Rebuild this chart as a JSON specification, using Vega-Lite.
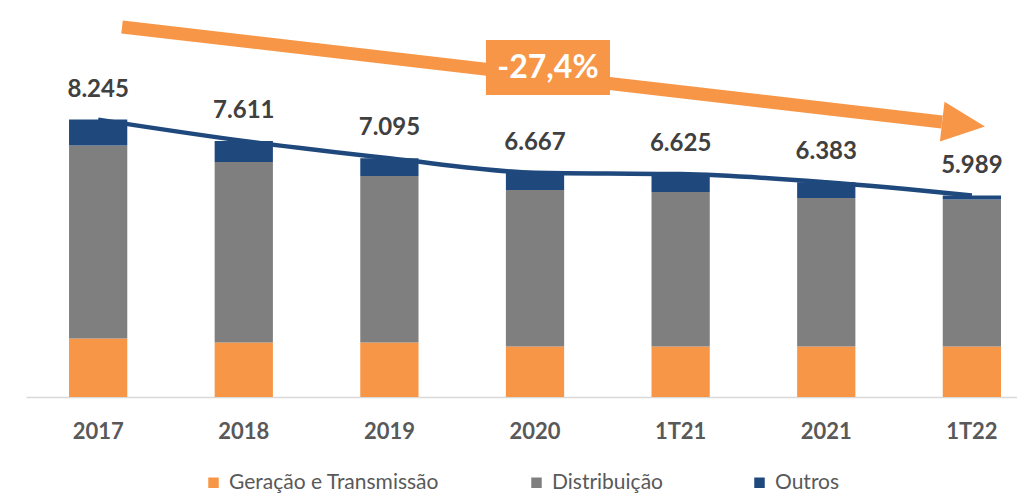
{
  "$schema": "https://vega.github.io/schema/vega-lite/v6.json",
  "width": 991,
  "height": 397,
  "autosize": {"type": "none"},
  "padding": {"left": 26, "top": 0, "right": 0, "bottom": 98},
  "background": "white",
  "config": {
    "view": {"stroke": null},
    "locale": {"number": {"decimal": ",", "thousands": ".", "grouping": [3], "currency": ["R$", ""]}}
  },
  "datasets": {
    "segments": [
      {"period": "2017", "segment": "Geração e Transmissão", "k": 1, "value": 1736},
      {"period": "2017", "segment": "Distribuição", "k": 2, "value": 5737},
      {"period": "2017", "segment": "Outros", "k": 3, "value": 772},
      {"period": "2018", "segment": "Geração e Transmissão", "k": 1, "value": 1617},
      {"period": "2018", "segment": "Distribuição", "k": 2, "value": 5369},
      {"period": "2018", "segment": "Outros", "k": 3, "value": 625},
      {"period": "2019", "segment": "Geração e Transmissão", "k": 1, "value": 1617},
      {"period": "2019", "segment": "Distribuição", "k": 2, "value": 4953},
      {"period": "2019", "segment": "Outros", "k": 3, "value": 525},
      {"period": "2020", "segment": "Geração e Transmissão", "k": 1, "value": 1498},
      {"period": "2020", "segment": "Distribuição", "k": 2, "value": 4655},
      {"period": "2020", "segment": "Outros", "k": 3, "value": 514},
      {"period": "1T21", "segment": "Geração e Transmissão", "k": 1, "value": 1498},
      {"period": "1T21", "segment": "Distribuição", "k": 2, "value": 4596},
      {"period": "1T21", "segment": "Outros", "k": 3, "value": 531},
      {"period": "2021", "segment": "Geração e Transmissão", "k": 1, "value": 1498},
      {"period": "2021", "segment": "Distribuição", "k": 2, "value": 4418},
      {"period": "2021", "segment": "Outros", "k": 3, "value": 467},
      {"period": "1T22", "segment": "Geração e Transmissão", "k": 1, "value": 1498},
      {"period": "1T22", "segment": "Distribuição", "k": 2, "value": 4370},
      {"period": "1T22", "segment": "Outros", "k": 3, "value": 121}
    ],
    "totals": [
      {"period": "2017", "total": 8245},
      {"period": "2018", "total": 7611},
      {"period": "2019", "total": 7095},
      {"period": "2020", "total": 6667},
      {"period": "1T21", "total": 6625},
      {"period": "2021", "total": 6383},
      {"period": "1T22", "total": 5989}
    ],
    "arrow": [
      {"pos": 0.164, "pos2": 5.795, "level": 10997, "level2": 8174}
    ],
    "head": [
      {"pos": 5.943, "level": 8114}
    ],
    "box": [
      {"pos": 2.663, "pos2": 3.515, "level": 10611, "level2": 8976, "mid": 3.089, "midlevel": 9779, "label": "-27,4%"}
    ]
  },
  "layer": [
    {
      "encoding": {
        "x": {
          "field": "period",
          "type": "nominal",
          "sort": ["2017", "2018", "2019", "2020", "1T21", "2021", "1T22"],
          "scale": {"paddingInner": 0.6, "paddingOuter": 0.2027, "align": 0.729},
          "axis": {
            "title": null,
            "labelAngle": 0,
            "ticks": false,
            "domainColor": "#D9D9D9",
            "domainWidth": 1.5,
            "labelFont": "Lato",
            "labelFontWeight": "bold",
            "labelFontSize": 22,
            "labelColor": "#595959",
            "labelPadding": 24
          }
        }
      },
      "layer": [
        {
          "data": {"name": "segments"},
          "mark": {"type": "bar"},
          "encoding": {
            "y": {"field": "value", "type": "quantitative", "stack": "zero", "scale": {"domain": [0, 11800], "nice": false}, "axis": null},
            "color": {
              "field": "segment",
              "type": "nominal",
              "scale": {"domain": ["Geração e Transmissão", "Distribuição", "Outros"], "range": ["#F79646", "#7F7F7F", "#1F497D"]},
              "legend": {
                "title": null,
                "orient": "none",
                "direction": "horizontal",
                "legendX": 177,
                "legendY": 472,
                "symbolType": "square",
                "symbolSize": 110,
                "symbolStrokeWidth": 0,
                "labelFont": "Lato",
                "labelFontSize": 21,
                "labelLimit": 500,
                "labelColor": "#595959",
                "columnPadding": 86,
                "labelOffset": 5
              }
            },
            "order": {"field": "k", "type": "quantitative"}
          }
        },
        {
          "data": {"name": "totals"},
          "mark": {"type": "line", "color": "#1F497D", "strokeWidth": 4.5, "interpolate": "monotone"},
          "encoding": {
            "y": {"field": "total", "type": "quantitative", "scale": {"domain": [0, 11800], "nice": false}, "axis": null}
          }
        },
        {
          "data": {"name": "totals"},
          "mark": {"type": "text", "font": "Lato", "fontWeight": "bold", "fontSize": 24, "color": "#404040", "baseline": "alphabetic", "dy": -23},
          "encoding": {
            "y": {"field": "total", "type": "quantitative", "scale": {"domain": [0, 11800], "nice": false}, "axis": null},
            "text": {"field": "total", "type": "quantitative", "format": ",.0f"}
          }
        }
      ]
    },
    {
      "layer": [
        {
          "data": {"name": "arrow"},
          "mark": {"type": "rule", "color": "#F79646", "strokeWidth": 13, "strokeCap": "butt"},
          "encoding": {
            "x": {"field": "pos", "type": "quantitative", "scale": {"domain": [-0.4955, 6.31], "nice": false, "zero": false}, "axis": null},
            "x2": {"field": "pos2"},
            "y": {"field": "level", "type": "quantitative", "scale": {"domain": [0, 11800], "nice": false}, "axis": null},
            "y2": {"field": "level2"}
          }
        },
        {
          "data": {"name": "head"},
          "mark": {"type": "point", "shape": "M-1,-0.93L1,0L-1,0.93Z", "filled": true, "opacity": 1, "color": "#F79646", "size": 1849, "angle": 6.6},
          "encoding": {
            "x": {"field": "pos", "type": "quantitative", "scale": {"domain": [-0.4955, 6.31], "nice": false, "zero": false}, "axis": null},
            "y": {"field": "level", "type": "quantitative", "scale": {"domain": [0, 11800], "nice": false}, "axis": null}
          }
        },
        {
          "data": {"name": "box"},
          "mark": {"type": "rect", "color": "#F79646"},
          "encoding": {
            "x": {"field": "pos", "type": "quantitative", "scale": {"domain": [-0.4955, 6.31], "nice": false, "zero": false}, "axis": null},
            "x2": {"field": "pos2"},
            "y": {"field": "level", "type": "quantitative", "scale": {"domain": [0, 11800], "nice": false}, "axis": null},
            "y2": {"field": "level2"}
          }
        },
        {
          "data": {"name": "box"},
          "mark": {"type": "text", "font": "Lato", "fontWeight": "bold", "fontSize": 32, "color": "white", "baseline": "middle", "align": "center"},
          "encoding": {
            "x": {"field": "mid", "type": "quantitative", "scale": {"domain": [-0.4955, 6.31], "nice": false, "zero": false}, "axis": null},
            "y": {"field": "midlevel", "type": "quantitative", "scale": {"domain": [0, 11800], "nice": false}, "axis": null},
            "text": {"field": "label"}
          }
        }
      ]
    }
  ],
  "resolve": {"scale": {"x": "independent"}}
}
